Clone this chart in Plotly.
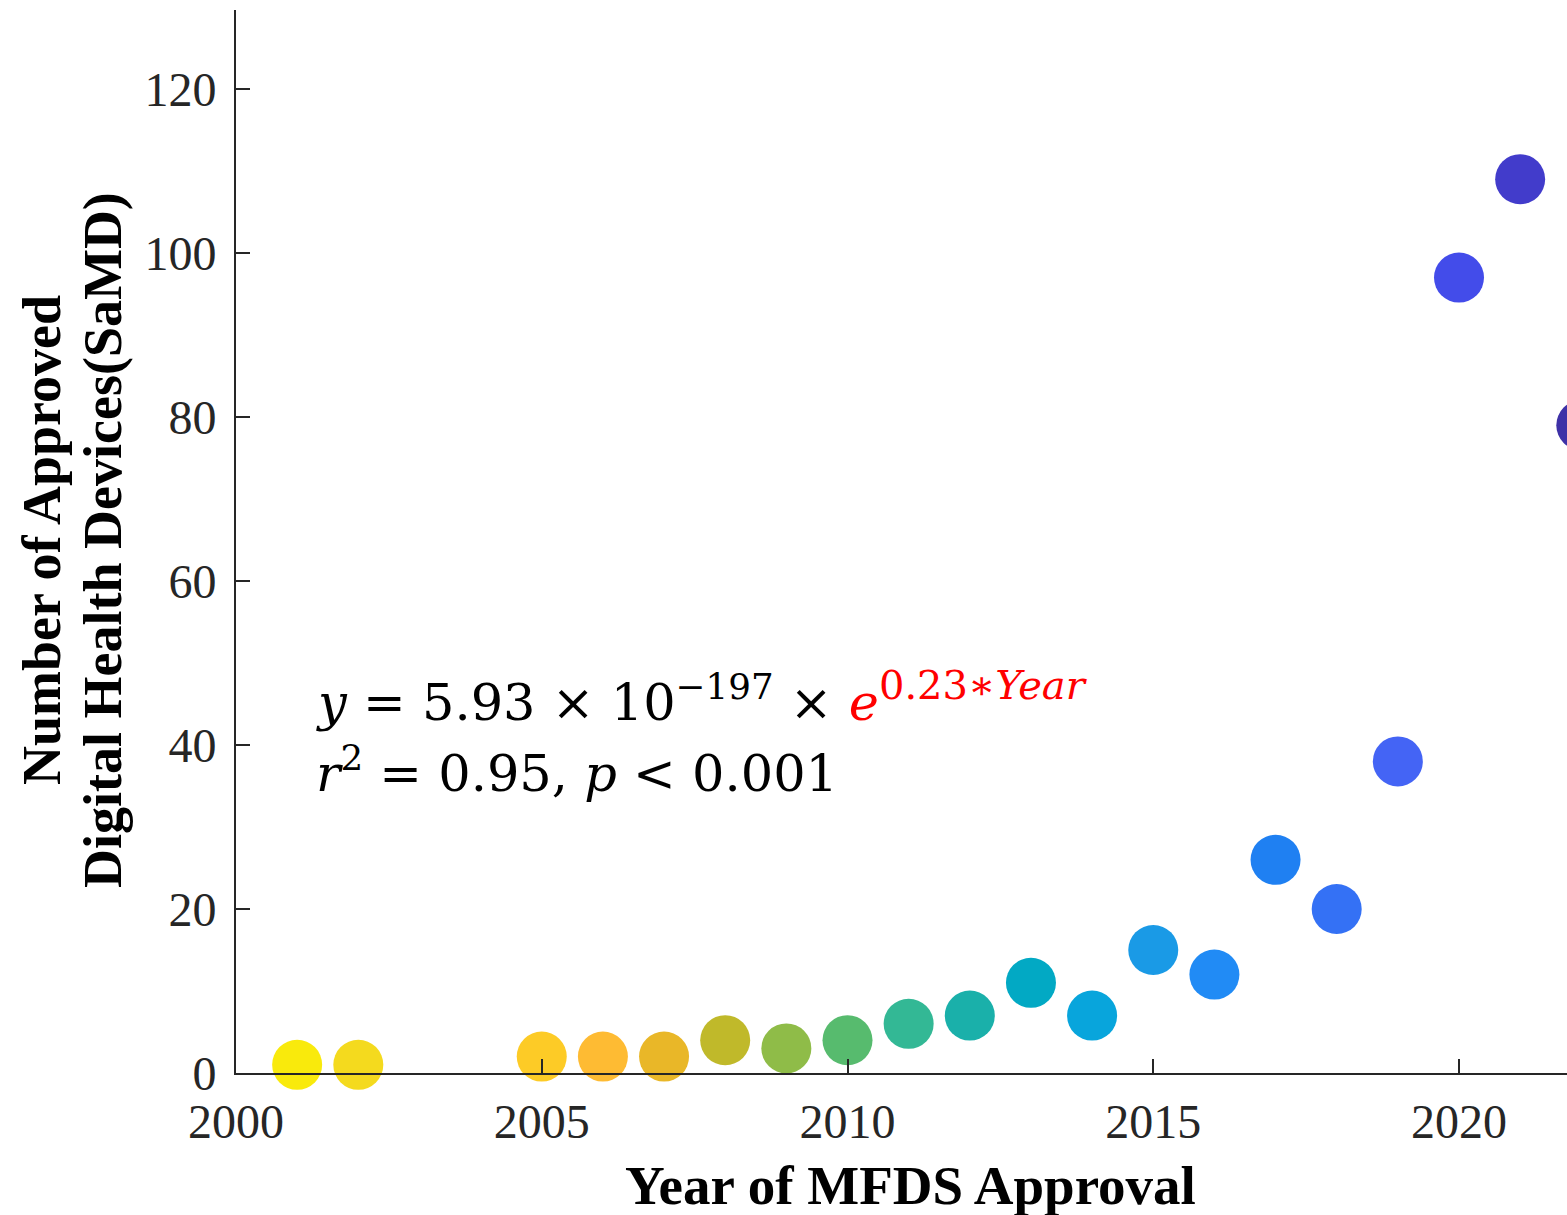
import plotly.graph_objects as go

years = [2001, 2002, 2005, 2006, 2007, 2008, 2009, 2010, 2011, 2012,
         2013, 2014, 2015, 2016, 2017, 2018, 2019, 2020, 2021, 2022]
counts = [1, 1, 2, 2, 2, 4, 3, 4, 6, 7,
          11, 7, 15, 12, 26, 20, 38, 97, 109, 79]
x_ticks = [2000, 2005, 2010, 2015, 2020]
y_ticks = [0, 20, 40, 60, 80, 100, 120]

point_colors = ["#F9EA0C", "#F4DA1E", "#FDCB26", "#FEBB33", "#E9B728",
                "#C0B92A", "#8FBC48", "#57BB6E", "#33B895", "#1AB0AA",
                "#02A9C4", "#08A5DC", "#1A9AE6", "#218BF5", "#1F80F2",
                "#3471F5", "#4464F5", "#434CEA", "#423CCB", "#3E31A7"]

VIEW_W = 1567
W, H = 1640, 1215          # canvas wider than window; right part is cut off like the reference
L, R, T, B = 236, 0, 10, 142
px_per_year = (1459 - 236) / 20.0
x_end = 2000 + (W - L - R) / px_per_year
px_per_unit = (1073 - 89) / 120.0
y_end = (1073 - 10) / px_per_unit
PW = W - L - R

axis_color = "#262626"
serif = "Liberation Serif, Times New Roman, serif"

fig = go.Figure()
fig.add_trace(go.Scatter(
    x=years, y=counts, mode="markers",
    marker=dict(size=50, color=point_colors, line=dict(width=0)),
    cliponaxis=False, showlegend=False,
))

fig.update_layout(
    width=W, height=H,
    margin=dict(l=L, r=R, t=T, b=B),
    paper_bgcolor="white", plot_bgcolor="white",
    font=dict(family=serif, color=axis_color),
    xaxis=dict(
        range=[2000, x_end], tickvals=x_ticks, ticktext=[str(v) for v in x_ticks],
        ticks="inside", ticklen=14, tickwidth=2, tickcolor=axis_color,
        showline=True, linecolor=axis_color, linewidth=2,
        showgrid=False, zeroline=False,
        tickfont=dict(family=serif, size=48, color=axis_color),
        ticklabelstandoff=5,
    ),
    yaxis=dict(
        range=[0, y_end], tickvals=y_ticks, ticktext=[str(v) for v in y_ticks],
        ticks="inside", ticklen=14, tickwidth=2, tickcolor=axis_color,
        showline=True, linecolor=axis_color, linewidth=2,
        showgrid=False, zeroline=False,
        tickfont=dict(family=serif, size=48, color=axis_color),
        ticklabelstandoff=8,
    ),
)

fig.add_annotation(
    text="<b>Year of MFDS Approval</b>", xref="paper", yref="paper",
    x=(910 - L) / PW, y=0, xanchor="center", yanchor="middle", yshift=-112,
    showarrow=False, font=dict(family=serif, size=55, color="black"),
)
fig.add_annotation(
    text="<b>Number of Approved</b>",
    xref="paper", yref="paper", x=0, y=(1073 - 540) / (1073 - T),
    xanchor="center", yanchor="middle",
    xshift=-(L - 42), textangle=-90, showarrow=False,
    font=dict(family=serif, size=54, color="black"),
)
fig.add_annotation(
    text="<b>Digital Health Devices(SaMD)</b>",
    xref="paper", yref="paper", x=0, y=(1073 - 540) / (1073 - T),
    xanchor="center", yanchor="middle",
    xshift=-(L - 103), textangle=-90, showarrow=False,
    font=dict(family=serif, size=54, color="black"),
)

math_font = "DejaVu Serif, serif"
fig.add_annotation(
    text=("<i>y</i> = 5.93 × 10<sup>−197</sup> × "
          "<span style='color:red'><i>e</i><sup><span style='font-size:40px'>0.23∗<i>Year</i></span></sup></span>"),
    xref="paper", yref="paper", x=(318 - L) / PW, y=(1073 - 697) / (1073 - T),
    xanchor="left", yanchor="middle", showarrow=False, xshift=-4,
    font=dict(family=math_font, size=51, color="black"),
)
fig.add_annotation(
    text="<i>r</i><sup>2</sup> = 0.95, <i>p</i> &lt; 0.001",
    xref="paper", yref="paper", x=(318 - L) / PW, y=(1073 - 770) / (1073 - T),
    xanchor="left", yanchor="middle", showarrow=False, xshift=-4,
    font=dict(family=math_font, size=51, color="black"),
)

fig.write_html("out.html", config={"displayModeBar": False},
               post_script="document.body.style.margin='0';document.body.style.overflow='hidden';")
